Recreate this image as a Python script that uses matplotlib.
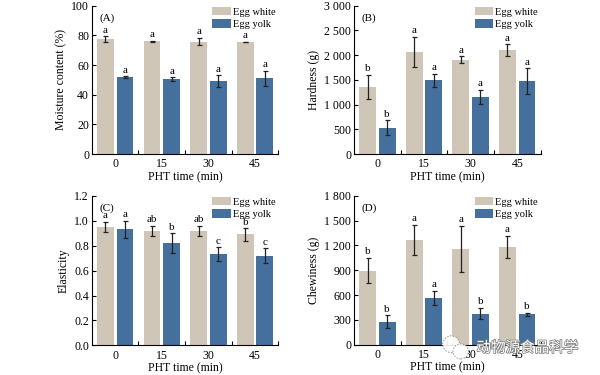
import numpy as np
import matplotlib
matplotlib.use("Agg")
import matplotlib.pyplot as plt
import matplotlib.patheffects as pe
from matplotlib.patches import Ellipse
from matplotlib.ticker import FuncFormatter, FixedLocator

plt.rcParams['font.family'] = ['Liberation Serif', 'DejaVu Serif']
plt.rcParams['font.size'] = 8

times = ["0", "15", "30", "45"]
legend_labels = ["Egg white", "Egg yolk"]

# (A) moisture content
moist_white = [77.5, 76.0, 75.8, 75.5]
moist_white_err = [2.0, 0.4, 2.5, 0.3]
moist_yolk = [52.0, 50.5, 49.0, 51.0]
moist_yolk_err = [0.5, 1.2, 4.0, 5.0]
moist_white_sig = ["a", "a", "a", "a"]
moist_yolk_sig = ["a", "a", "a", "a"]

# (B) hardness
hard_white = [1360, 2070, 1910, 2100]
hard_white_err = [240, 300, 70, 120]
hard_yolk = [530, 1490, 1160, 1470]
hard_yolk_err = [150, 130, 140, 260]
hard_white_sig = ["b", "a", "a", "a"]
hard_yolk_sig = ["b", "a", "a", "a"]

# (C) elasticity
elas_white = [0.95, 0.92, 0.92, 0.89]
elas_white_err = [0.04, 0.04, 0.04, 0.05]
elas_yolk = [0.93, 0.82, 0.73, 0.72]
elas_yolk_err = [0.07, 0.08, 0.055, 0.06]
elas_white_sig = ["a", "ab", "ab", "b"]
elas_yolk_sig = ["a", "b", "c", "c"]

# (D) chewiness
chew_white = [895, 1265, 1155, 1180]
chew_white_err = [155, 185, 280, 135]
chew_yolk = [275, 565, 375, 365]
chew_yolk_err = [80, 85, 70, 20]
chew_white_sig = ["b", "a", "a", "a"]
chew_yolk_sig = ["b", "a", "b", "b"]

c_white = "#D0C6B8"
c_yolk = "#45709E"


def space_thousands(v, pos):
    return "{:,.0f}".format(v).replace(",", " ")


def panel(ax, white, werr, yolk, yerr, wsig, ysig, ymax, ystep, ylabel, tag, fmt=None):
    x = np.arange(len(times))
    w = 0.36
    off = 0.21
    ek = dict(ecolor="#222222", elinewidth=0.9, capsize=1.8, capthick=0.9)
    ax.bar(x - off, white, w, yerr=werr, color=c_white, label=legend_labels[0], error_kw=ek)
    ax.bar(x + off, yolk, w, yerr=yerr, color=c_yolk, label=legend_labels[1], error_kw=ek)
    pad = ymax * 0.01
    for i in range(len(x)):
        ax.text(x[i] - off, white[i] + werr[i] + pad, wsig[i], ha="center", va="bottom", fontsize=8)
        ax.text(x[i] + off, yolk[i] + yerr[i] + pad, ysig[i], ha="center", va="bottom", fontsize=8)
    ax.set_xlim(-0.5, 3.5)
    ax.set_ylim(0, ymax)
    ax.set_yticks(np.arange(0, ymax + ystep / 2, ystep))
    if fmt is not None:
        ax.yaxis.set_major_formatter(FuncFormatter(fmt))
    ax.set_xticks(x)
    ax.set_xticklabels(times)
    ax.xaxis.set_minor_locator(FixedLocator([0.5, 1.5, 2.5, 3.5]))
    ax.tick_params(axis="x", which="major", length=0, pad=3, labelsize=8.5)
    ax.tick_params(axis="x", which="minor", direction="in", length=3, width=0.8)
    ax.tick_params(axis="y", direction="in", length=3, width=0.8, pad=2, labelsize=8.5)
    for s in ["top", "right"]:
        ax.spines[s].set_visible(False)
    for s in ["left", "bottom"]:
        ax.spines[s].set_linewidth(0.8)
    ax.set_xlabel("PHT time (min)", labelpad=0.5, fontsize=8.5)
    ax.set_ylabel(ylabel, labelpad=3, fontsize=8.5)
    ax.text(0.04, 0.95, tag, transform=ax.transAxes, ha="left", va="top", fontsize=8)
    ax.legend(loc="upper right", bbox_to_anchor=(1.02, 1.035), frameon=False, fontsize=7.5,
              handlelength=1.8, handleheight=0.9, handletextpad=0.2, labelspacing=0.25,
              borderaxespad=0.2)


fig = plt.figure(figsize=(6, 3.75), dpi=100)
axA = fig.add_axes([0.153, 0.589, 0.311, 0.396])
axB = fig.add_axes([0.59, 0.589, 0.311, 0.396])
axC = fig.add_axes([0.153, 0.079, 0.311, 0.399])
axD = fig.add_axes([0.59, 0.081, 0.311, 0.397])

panel(axA, moist_white, moist_white_err, moist_yolk, moist_yolk_err,
      moist_white_sig, moist_yolk_sig, 100, 20, "Moisture content (%)", "(A)")
panel(axB, hard_white, hard_white_err, hard_yolk, hard_yolk_err,
      hard_white_sig, hard_yolk_sig, 3000, 500, "Hardness (g)", "(B)", space_thousands)
panel(axC, elas_white, elas_white_err, elas_yolk, elas_yolk_err,
      elas_white_sig, elas_yolk_sig, 1.2, 0.2, "Elasticity", "(C)", lambda v, p: "%.1f" % v)
panel(axD, chew_white, chew_white_err, chew_yolk, chew_yolk_err,
      chew_white_sig, chew_yolk_sig, 1800, 300, "Chewiness (g)", "(D)", space_thousands)

# watermark (WeChat-style icon + account name)
for (cx, cy, ew, eh) in [(0.752, 0.082, 0.028, 0.045), (0.768, 0.063, 0.026, 0.04)]:
    fig.patches.append(Ellipse((cx, cy), ew, eh, transform=fig.transFigure,
                               facecolor="white", edgecolor="#888888", linewidth=0.7,
                               linestyle=(0, (1.5, 1.5)), alpha=0.9))
fig.text(0.794, 0.072, "动物源食品科学", family=["Noto Sans CJK SC", "DejaVu Sans"],
         fontsize=10.5, color="white", ha="left", va="center",
         path_effects=[pe.withStroke(linewidth=1.1, foreground="#808080")])

fig.savefig("out.png", dpi=100)
